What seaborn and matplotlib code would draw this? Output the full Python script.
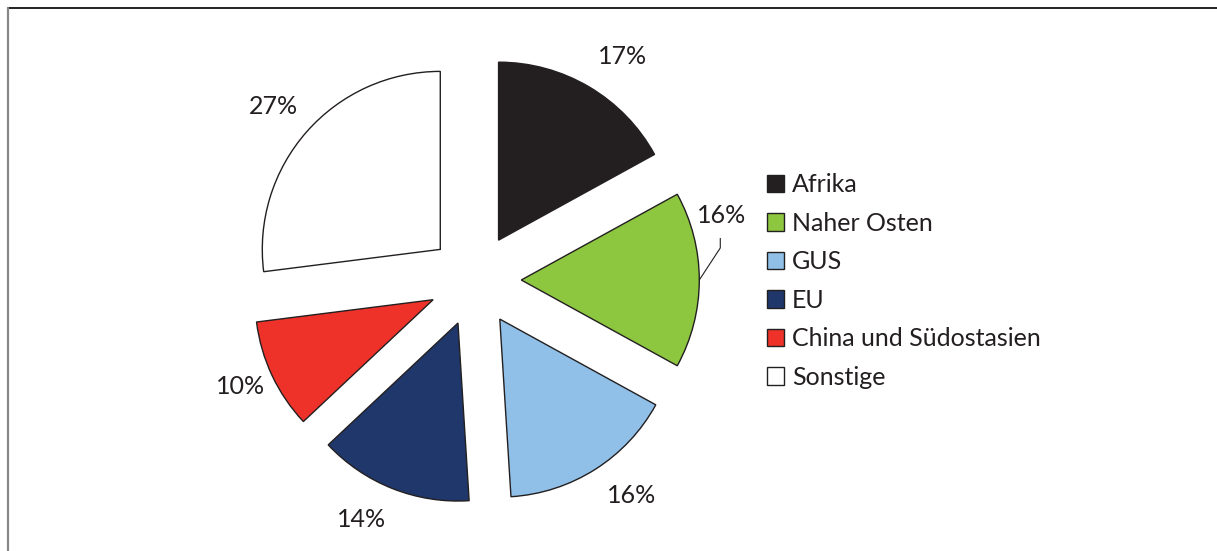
import numpy as np
import matplotlib
matplotlib.use("Agg")
import matplotlib.pyplot as plt
from matplotlib.lines import Line2D
import seaborn as sns

# Regions and their shares (percent)
regions = ["Afrika", "Naher Osten", "GUS", "EU", "China und Südostasien", "Sonstige"]
shares = [17, 16, 16, 14, 10, 27]
colors = ["#231f20", "#8dc63f", "#90c0e8", "#1f376b", "#ee3229", "#ffffff"]

sns.set_theme(style="white")
plt.rcParams["font.family"] = ["Lato", "DejaVu Sans"]

W, H, DPI = 1217, 551, 100
fig = plt.figure(figsize=(W / DPI, H / DPI), dpi=DPI)
fig.patch.set_facecolor("white")

# pie geometry in pixels
cx, cy, R = 475, 280, 178
ax = fig.add_axes([0, 0, 1, 1])
ax.set_facecolor("white")

explode = [0.26] * len(shares)
wedges, _ = ax.pie(
    shares,
    colors=colors,
    startangle=90,
    counterclock=False,
    explode=explode,
    radius=1.0,
    wedgeprops=dict(edgecolor="#231f20", linewidth=1.0),
)
ax.set_xlim(-cx / R, (W - cx) / R)
ax.set_ylim(-(H - cy) / R, cy / R)
ax.set_aspect("equal")
ax.axis("off")

TEXT = "#231f20"
FS = 18

# percentage labels around the pie (in pie-radius units)
label_pos = [(0.826, 1.253), (1.388, 0.365), (0.882, -1.208),
             (-0.635, -1.343), (-1.320, -0.601), (-1.135, 0.972)]
for v, (lx, ly) in zip(shares, label_pos):
    ax.text(lx, ly, f"{v}%", ha="center", va="center", fontsize=FS,
            color=TEXT, fontweight="normal")

# leader line for the Naher Osten label
w = wedges[1]
mid = np.deg2rad((w.theta1 + w.theta2) / 2)
ox, oy = w.center
ax.plot([ox + np.cos(mid), ox + 1.118, ox + 1.118],
        [oy + np.sin(mid), oy + 0.180, oy + 0.236],
        color=TEXT, lw=0.8, solid_capstyle="butt")

leg = ax.legend(
    wedges, regions,
    loc="center left",
    bbox_to_anchor=(767 / W, 1 - 281 / H),
    bbox_transform=fig.transFigure,
    frameon=False,
    handlelength=0.68,
    handleheight=0.68,
    handletextpad=0.32,
    labelspacing=0.62,
    borderpad=0,
    borderaxespad=0,
    prop=dict(weight="normal", size=FS),
)
for t in leg.get_texts():
    t.set_color(TEXT)

# frame lines along the top and left edge
fig.add_artist(Line2D([8 / W, 1], [1 - 8 / H, 1 - 8 / H], transform=fig.transFigure,
                      color="#222222", lw=1.4))
fig.add_artist(Line2D([8 / W, 8 / W], [0, 1 - 8 / H], transform=fig.transFigure,
                      color="#888888", lw=1.6))

fig.savefig("out.png", dpi=DPI, facecolor="white")
